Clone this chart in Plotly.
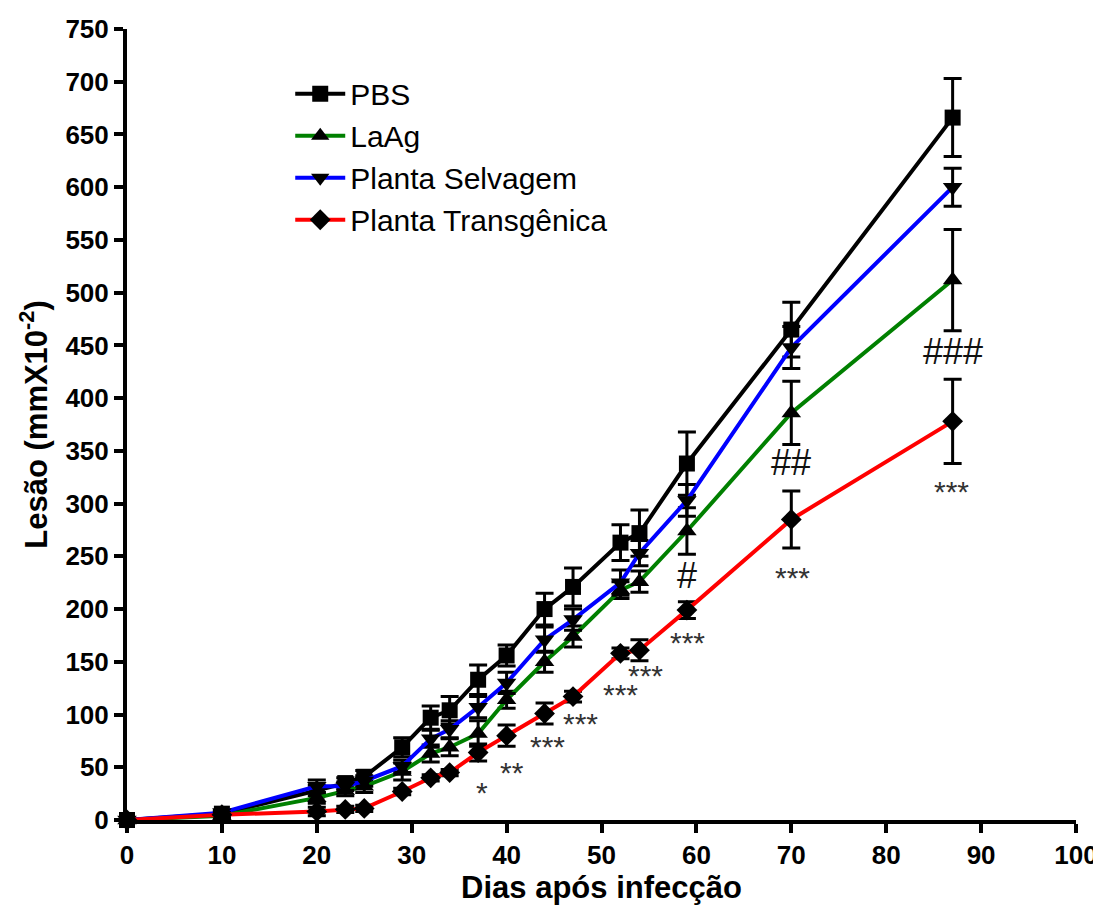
import plotly.graph_objects as go

days = [0, 10, 20, 23, 25, 29, 32, 34, 37, 40, 44, 47, 52, 54, 59, 70, 87]

pbs = [0, 6, 28, 35, 41, 69, 97, 104, 133, 156, 200, 221, 263, 272, 338, 465, 666]
pbs_err = [0, 2, 5, 5, 6, 9, 11, 13, 14, 10, 15, 18, 17, 22, 30, 26, 37]

laag = [0, 4, 21, 28, 32, 46, 63, 69, 82, 114, 150, 174, 218, 226, 274, 386, 512]
laag_err = [0, 2, 5, 5, 6, 8, 8, 8, 12, 8, 10, 10, 8, 10, 22, 30, 48]

selv = [0, 7, 32, 32, 37, 51, 77, 86, 107, 130, 171, 190, 225, 253, 303, 448, 600]
selv_err = [0, 2, 6, 4, 5, 6, 8, 8, 10, 10, 12, 10, 12, 12, 15, 20, 18]

trans = [0, 5, 8, 10, 11, 27, 40, 45, 64, 80, 101, 117, 158, 161, 199, 285, 378]
trans_err = [0, 2, 4, 3, 3, 3, 3, 3, 8, 10, 10, 5, 5, 10, 8, 27, 40]

names = ["PBS", "LaAg", "Planta Selvagem", "Planta Transgênica"]

# significance labels: (day, level, text)
star_labels = [(37, 33, "*"), (40, 52, "**"), (44, 76, "***"), (47, 98, "***"),
               (52, 126, "***"), (54, 144, "***"), (59, 175, "***"),
               (70, 237, "***"), (87, 318, "***")]
star_xshift = [4, 5, 3, 7, 0, 6, 1, 1, -1]
hash_labels = [(59, 232, "#"), (70, 339, "##"), (87, 444, "###")]

FONT = "Arial, Liberation Sans, sans-serif"

fig = go.Figure()

series = [
    (pbs, pbs_err, names[0], "black", "square", 16),
    (laag, laag_err, names[1], "#008000", "triangle-up", 17),
    (selv, selv_err, names[2], "#0000FF", "triangle-down", 17),
    (trans, trans_err, names[3], "#FF0000", "diamond", 16),
]

for vals, errs, name, col, sym, sz in series:
    fig.add_trace(go.Scatter(
        x=days, y=vals, name=name, mode="lines+markers",
        line=dict(color=col, width=4),
        marker=dict(symbol=sym, size=sz, color="black", line=dict(width=0)),
        error_y=dict(type="data", array=errs, visible=True, color="black",
                     thickness=3, width=9),
        cliponaxis=False,
    ))

annotations = []
for (d, lv, t), xs in zip(star_labels, star_xshift):
    annotations.append(dict(x=d, y=lv, text=t, showarrow=False, xref="x", yref="y",
                            xanchor="center", yanchor="middle", xshift=xs, yshift=-7,
                            font=dict(family=FONT, size=30, color="#333333")))
for d, lv, t in hash_labels:
    annotations.append(dict(x=d, y=lv, text=t, showarrow=False, xref="x", yref="y",
                            xanchor="center", yanchor="middle", yshift=0,
                            font=dict(family=FONT, size=36, color="#111111")))

fig.update_layout(
    width=1093, height=904,
    margin=dict(l=119, r=25, t=21, b=92, autoexpand=False),
    paper_bgcolor="white", plot_bgcolor="white",
    font=dict(family=FONT, color="black"),
    showlegend=True,
    legend=dict(x=0.172, y=0.951, xanchor="left", yanchor="top",
                bgcolor="rgba(0,0,0,0)", borderwidth=0,
                font=dict(family=FONT, size=30, color="black"),
                tracegroupgap=0, itemwidth=50),
    annotations=annotations,
)

fig.update_xaxes(
    range=[0, 100], tickmode="linear", tick0=0, dtick=10,
    showgrid=False, zeroline=False, automargin=False,
    showline=True, linecolor="black", linewidth=4,
    ticks="outside", ticklen=9, tickwidth=4, tickcolor="black",
    tickfont=dict(family=FONT, size=26, color="black", weight="bold"),
    title=dict(text="<b>Dias após infecção</b>", font=dict(family=FONT, size=31, color="black"),
               standoff=8),
)
fig.update_yaxes(
    range=[0, 750], tickmode="linear", tick0=0, dtick=50,
    showgrid=False, zeroline=False, automargin=False,
    showline=True, linecolor="black", linewidth=4,
    ticks="outside", ticklen=9, tickwidth=4, tickcolor="black",
    tickfont=dict(family=FONT, size=26, color="black", weight="bold"),
    title=dict(text="<b>Lesão (mmX10<sup>-2</sup>)</b>", font=dict(family=FONT, size=31, color="black"),
               standoff=10),
)

fig.write_html("out.html")
